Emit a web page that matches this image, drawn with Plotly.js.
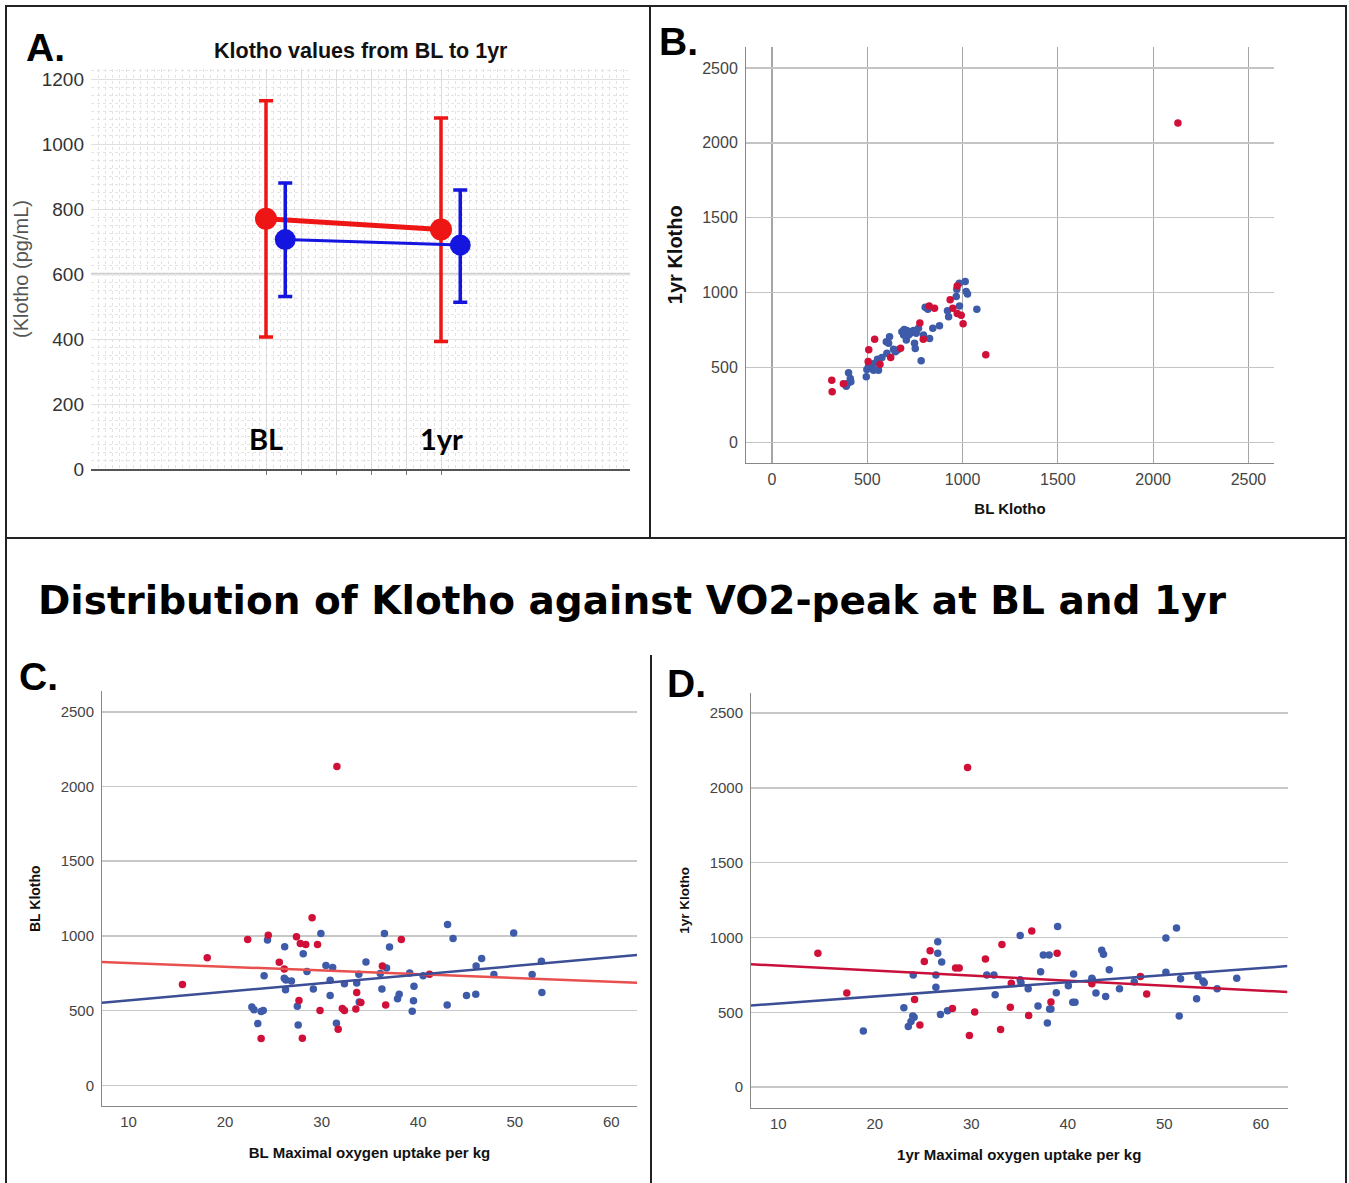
<!DOCTYPE html>
<html><head><meta charset="utf-8">
<script src="https://cdn.plot.ly/plotly-3.0.1.min.js"></script>
<style>html,body{margin:0;padding:0;background:#fff;} #chart{width:1349px;height:1183px;}</style>
</head><body><div id="chart"></div>
<script>
// ---------- Panel A: mean +/- SD ----------
const aCategories = ['BL', '1yr'];
const aRedMean  = [770, 737];
const aRedUpper = [1133, 1080];
const aRedLower = [406, 392];
const aBlueMean  = [706, 689];
const aBlueUpper = [880, 859];
const aBlueLower = [531, 513];
const aRefLine = 600;
const aTicks = [0, 200, 400, 600, 800, 1000, 1200];
const aXTicks = [1, 1.2, 1.4, 1.6, 1.8, 2];

// ---------- Panel B: BL Klotho vs 1yr Klotho ----------
const bRedX = [314, 316, 375, 505, 508, 539, 567, 623, 675, 776, 794, 825, 853, 935, 949, 972, 972, 993, 1003, 1122, 2130];
const bRedY = [414, 338, 391, 540, 619, 688, 522, 566, 628, 796, 688, 911, 895, 952, 895, 1044, 860, 849, 791, 584, 2132];
const bBlueX = [402, 411, 397, 390, 414, 495, 498, 507, 516, 524, 533, 537, 559, 554, 577, 603, 600, 617, 612, 638, 647, 659, 682, 691, 694, 708, 705, 717, 726, 734, 743, 748, 752, 757, 769, 783, 795, 804, 818, 827, 844, 879, 921, 927, 967, 970, 984, 983, 1014, 1019, 1026, 1075];
const bBlueY = [464, 426, 393, 375, 404, 438, 487, 509, 522, 504, 482, 527, 482, 554, 567, 594, 672, 705, 661, 621, 605, 616, 739, 717, 754, 746, 683, 717, 728, 739, 746, 661, 627, 728, 761, 545, 717, 902, 888, 694, 761, 779, 879, 839, 973, 1022, 911, 1063, 1074, 1007, 991, 888];

// ---------- Panel C: BL VO2 peak vs BL Klotho ----------
const cRedX = [31.58, 15.58, 18.15, 22.34, 24.47, 29.01, 27.39, 27.79, 28.35, 29.57, 38.25, 25.61, 26.13, 36.29, 33.63, 34.06, 36.63, 27.65, 29.83, 32.14, 32.36, 33.54, 31.71, 23.73, 28.0, 41.17];
const cRedY = [2134, 675, 853, 976, 1004, 1122, 995, 949, 942, 942, 976, 823, 779, 798, 622, 554, 538, 568, 501, 515, 501, 510, 376, 313, 315, 744];
const cBlueX = [24.39, 26.17, 29.92, 28.09, 24.04, 26.13, 26.87, 26.26, 28.48, 29.14, 30.44, 31.14, 30.88, 30.88, 32.36, 33.63, 33.85, 34.59, 33.89, 22.77, 22.99, 23.73, 23.95, 23.38, 27.48, 27.57, 31.53, 36.5, 37.03, 36.72, 36.07, 36.24, 39.12, 38.03, 37.86, 39.56, 39.51, 39.38, 40.51, 43.04, 43.61, 43.0, 45.0, 45.96, 46.0, 46.57, 47.84, 49.89, 51.8, 52.76, 52.81, 26.3];
const cBlueY = [972, 928, 1016, 881, 733, 717, 698, 640, 761, 645, 802, 788, 703, 601, 679, 684, 744, 826, 557, 524, 506, 494, 501, 413, 529, 404, 415, 1016, 925, 786, 749, 645, 751, 610, 580, 663, 566, 496, 733, 1076, 983, 538, 601, 610, 798, 849, 742, 1020, 742, 830, 622, 705];
const cFitRed  = [844.3, -2.527];   // [intercept, slope]
const cFitBlue = [510.1, 5.775];

// ---------- Panel D: 1yr VO2 peak vs 1yr Klotho ----------
const dRedX = [29.62, 14.11, 17.11, 25.74, 25.14, 24.13, 24.68, 28.38, 28.75, 28.05, 30.36, 29.81, 31.47, 33.18, 34.15, 34.05, 33.04, 36.27, 38.9, 35.95, 38.26, 42.5, 47.53, 48.18];
const dRedY = [2135, 895, 629, 911, 839, 585, 416, 796, 796, 525, 502, 345, 856, 953, 694, 534, 386, 1043, 895, 479, 569, 691, 740, 622];
const dBlueX = [18.82, 23.02, 23.99, 23.94, 24.08, 23.76, 23.48, 26.53, 26.53, 26.94, 26.34, 26.34, 26.81, 27.54, 31.61, 32.35, 32.48, 35.07, 35.07, 35.16, 35.9, 37.19, 37.47, 38.07, 36.92, 38.12, 38.26, 37.89, 38.81, 38.95, 40.06, 40.61, 40.52, 40.75, 42.5, 42.55, 42.92, 43.52, 43.7, 44.3, 43.93, 45.36, 46.89, 50.17, 51.27, 50.17, 51.69, 51.55, 53.35, 53.49, 54.0, 54.14, 55.48, 57.51];
const dBlueY = [375, 530, 749, 476, 467, 439, 405, 971, 895, 837, 749, 668, 486, 511, 749, 749, 617, 1013, 717, 698, 657, 772, 883, 883, 543, 523, 523, 428, 631, 1073, 678, 756, 567, 567, 728, 717, 629, 914, 888, 784, 606, 657, 703, 997, 1064, 768, 724, 476, 590, 740, 710, 698, 657, 728];
const dFitRed  = [844.9, -3.328];
const dFitBlue = [512.0, 4.731];

// ---------- layout helpers ----------
const W = 1349, H = 1183;
const fx = p => p / W;
const fy = p => 1 - p / H;
const RED = '#d01038', BLUE = '#3e5ba9';
const A_RED = '#ee1515', A_BLUE = '#1515e0';
const FONT = 'Liberation Sans, Arial, sans-serif';

const aXRange = [0, 3.08];
const aBlueOffset = 0.11;
const cXRange = [7.25, 62.66];
const dXRange = [7.18, 62.77];

const traces = [];

// Panel A
const aRedX = aCategories.map((c, i) => i + 1);
const aBlueX = aCategories.map((c, i) => i + 1 + aBlueOffset);
traces.push({
  x: aRedX, y: aRedMean, xaxis: 'x', yaxis: 'y', type: 'scatter', mode: 'lines+markers',
  line: {color: A_RED, width: 5}, marker: {color: A_RED, size: 22},
  error_y: {type: 'data', symmetric: false,
    array: aRedUpper.map((u, i) => u - aRedMean[i]),
    arrayminus: aRedMean.map((m, i) => m - aRedLower[i]),
    color: A_RED, thickness: 3.5, width: 7},
  showlegend: false, hoverinfo: 'skip'
});
traces.push({
  x: aBlueX, y: aBlueMean, xaxis: 'x', yaxis: 'y', type: 'scatter', mode: 'lines+markers',
  line: {color: A_BLUE, width: 3}, marker: {color: A_BLUE, size: 21},
  error_y: {type: 'data', symmetric: false,
    array: aBlueUpper.map((u, i) => u - aBlueMean[i]),
    arrayminus: aBlueMean.map((m, i) => m - aBlueLower[i]),
    color: A_BLUE, thickness: 3.5, width: 7},
  showlegend: false, hoverinfo: 'skip'
});

// Panel B
traces.push({x: bBlueX, y: bBlueY, xaxis: 'x2', yaxis: 'y2', type: 'scatter', mode: 'markers',
  marker: {color: BLUE, size: 7.5}, showlegend: false});
traces.push({x: bRedX, y: bRedY, xaxis: 'x2', yaxis: 'y2', type: 'scatter', mode: 'markers',
  marker: {color: RED, size: 7.5}, showlegend: false});

// Panel C
traces.push({x: cBlueX, y: cBlueY, xaxis: 'x3', yaxis: 'y3', type: 'scatter', mode: 'markers',
  marker: {color: BLUE, size: 7.5}, showlegend: false});
traces.push({x: cRedX, y: cRedY, xaxis: 'x3', yaxis: 'y3', type: 'scatter', mode: 'markers',
  marker: {color: RED, size: 7.5}, showlegend: false});
traces.push({x: cXRange, y: cXRange.map(x => cFitRed[0] + cFitRed[1] * x), xaxis: 'x3', yaxis: 'y3',
  type: 'scatter', mode: 'lines', line: {color: '#e8504e', width: 2.5}, showlegend: false});
traces.push({x: cXRange, y: cXRange.map(x => cFitBlue[0] + cFitBlue[1] * x), xaxis: 'x3', yaxis: 'y3',
  type: 'scatter', mode: 'lines', line: {color: '#3b4e96', width: 2.5}, showlegend: false});

// Panel D
traces.push({x: dBlueX, y: dBlueY, xaxis: 'x4', yaxis: 'y4', type: 'scatter', mode: 'markers',
  marker: {color: BLUE, size: 7.5}, showlegend: false});
traces.push({x: dRedX, y: dRedY, xaxis: 'x4', yaxis: 'y4', type: 'scatter', mode: 'markers',
  marker: {color: RED, size: 7.5}, showlegend: false});
traces.push({x: dXRange, y: dXRange.map(x => dFitRed[0] + dFitRed[1] * x), xaxis: 'x4', yaxis: 'y4',
  type: 'scatter', mode: 'lines', line: {color: '#c8103a', width: 2.5}, showlegend: false});
traces.push({x: dXRange, y: dXRange.map(x => dFitBlue[0] + dFitBlue[1] * x), xaxis: 'x4', yaxis: 'y4',
  type: 'scatter', mode: 'lines', line: {color: '#3b4e96', width: 2.5}, showlegend: false});

const tickF = (s) => ({family: FONT, size: s, color: '#444'});
const titleF = (s) => ({family: FONT, size: s, color: '#111', weight: 'bold'});

const layout = {
  width: W, height: H, margin: {l: 0, r: 0, t: 0, b: 0},
  paper_bgcolor: '#fff', plot_bgcolor: '#fff', showlegend: false,
  font: {family: FONT},
  // Panel A
  xaxis: {domain: [fx(91), fx(630)], anchor: 'y', range: aXRange,
    tickmode: 'array', tickvals: aXTicks, showticklabels: false,
    ticks: 'outside', ticklen: 4, tickcolor: '#777',
    showgrid: true, gridcolor: '#dcdcdc', zeroline: false,
    showline: true, linecolor: '#555', linewidth: 1.5,
    minor: {tickmode: 'linear', tick0: 0, dtick: 0.04, showgrid: true, gridcolor: '#e2e2e2', griddash: 'dot', ticks: ''}},
  yaxis: {domain: [fy(469), fy(69)], anchor: 'x', range: [0, 1231],
    tickvals: aTicks, tickfont: {family: FONT, size: 19, color: '#333'},
    showgrid: true, gridcolor: '#e0e0e0', zeroline: false, showline: false, ticks: '',
    ticklabelstandoff: 6,
    title: {text: '(Klotho (pg/mL)', font: {family: FONT, size: 20, color: '#555'}, standoff: 7},
    minor: {tickmode: 'linear', tick0: 0, dtick: 25, showgrid: true, gridcolor: '#e4e4e4', griddash: 'dot', ticks: ''}},
  // Panel B
  xaxis2: {domain: [fx(746), fx(1274)], anchor: 'y2', range: [-136, 2634],
    tickmode: 'linear', tick0: 0, dtick: 500, tickfont: tickF(16),
    showgrid: true, gridcolor: '#a6a6a6', gridwidth: 1.3, zeroline: false,
    showline: true, linecolor: '#888', ticks: '', ticklabelstandoff: 2,
    title: {text: 'BL Klotho', font: titleF(15), standoff: 16}},
  yaxis2: {domain: [fy(463), fy(46.5)], anchor: 'x2', range: [-138, 2643],
    tickmode: 'linear', tick0: 0, dtick: 500, tickfont: tickF(16),
    showgrid: true, gridcolor: '#c4c4c4', gridwidth: 1.5, zeroline: false,
    showline: true, linecolor: '#888', ticks: '', ticklabelstandoff: 4,
    title: {text: '1yr Klotho', font: titleF(20), standoff: 14}},
  // Panel C
  xaxis3: {domain: [fx(102), fx(637)], anchor: 'y3', range: cXRange,
    tickmode: 'linear', tick0: 0, dtick: 10, tickfont: tickF(15),
    showgrid: false, zeroline: false, showline: true, linecolor: '#888', ticks: '', ticklabelstandoff: 2,
    title: {text: 'BL Maximal oxygen uptake per kg', font: titleF(15), standoff: 18}},
  yaxis3: {domain: [fy(1106.4), fy(691)], anchor: 'x3', range: [-141, 2639],
    tickmode: 'linear', tick0: 0, dtick: 500, tickfont: tickF(15),
    showgrid: true, gridcolor: '#c8c8c8', gridwidth: 1.5, zeroline: false,
    showline: true, linecolor: '#888', ticks: '', ticklabelstandoff: 4,
    title: {text: 'BL Klotho', font: titleF(14), standoff: 16}},
  // Panel D
  xaxis4: {domain: [fx(751), fx(1287.5)], anchor: 'y4', range: dXRange,
    tickmode: 'linear', tick0: 0, dtick: 10, tickfont: tickF(15),
    showgrid: false, zeroline: false, showline: true, linecolor: '#888', ticks: '', ticklabelstandoff: 2,
    title: {text: '1yr Maximal oxygen uptake per kg', font: titleF(15), standoff: 18}},
  yaxis4: {domain: [fy(1108), fy(692.6)], anchor: 'x4', range: [-139, 2636],
    tickmode: 'linear', tick0: 0, dtick: 500, tickfont: tickF(15),
    showgrid: true, gridcolor: '#c8c8c8', gridwidth: 1.5, zeroline: false,
    showline: true, linecolor: '#888', ticks: '', ticklabelstandoff: 4,
    title: {text: '1yr Klotho', font: titleF(13.5), standoff: 16}},
  shapes: [
    {type: 'line', xref: 'x domain', yref: 'y', x0: 0, x1: 1, y0: aRefLine, y1: aRefLine,
     line: {color: '#cfcfcf', width: 2.5}, layer: 'below'},
    {type: 'rect', xref: 'paper', yref: 'paper', x0: fx(6), x1: fx(1346), y0: fy(1190), y1: fy(6),
     line: {color: '#222', width: 2}},
    {type: 'line', xref: 'paper', yref: 'paper', x0: fx(6), x1: fx(1346), y0: fy(538), y1: fy(538),
     line: {color: '#222', width: 2}},
    {type: 'line', xref: 'paper', yref: 'paper', x0: fx(650), x1: fx(650), y0: fy(538), y1: fy(6),
     line: {color: '#222', width: 2}},
    {type: 'line', xref: 'paper', yref: 'paper', x0: fx(651), x1: fx(651), y0: fy(1190), y1: fy(655),
     line: {color: '#222', width: 2}}
  ],
  annotations: [
    {xref: 'paper', yref: 'paper', x: fx(24), y: fy(47), xanchor: 'left', yanchor: 'middle', showarrow: false,
     text: '<b>A.</b>', font: {family: FONT, size: 39, color: '#000'}},
    {xref: 'paper', yref: 'paper', x: fx(657), y: fy(42), xanchor: 'left', yanchor: 'middle', showarrow: false,
     text: '<b>B.</b>', font: {family: FONT, size: 39, color: '#000'}},
    {xref: 'paper', yref: 'paper', x: fx(17), y: fy(676), xanchor: 'left', yanchor: 'middle', showarrow: false,
     text: '<b>C.</b>', font: {family: FONT, size: 39, color: '#000'}},
    {xref: 'paper', yref: 'paper', x: fx(665), y: fy(683), xanchor: 'left', yanchor: 'middle', showarrow: false,
     text: '<b>D.</b>', font: {family: FONT, size: 39, color: '#000'}},
    {xref: 'paper', yref: 'paper', x: fx(361), y: fy(51), xanchor: 'center', yanchor: 'middle', showarrow: false,
     text: '<b>Klotho values from BL to 1yr</b>', font: {family: FONT, size: 21.5, color: '#111'}},
    {xref: 'paper', yref: 'paper', x: fx(632), y: fy(601), xanchor: 'center', yanchor: 'middle', showarrow: false,
     text: '<b>Distribution of Klotho against VO2-peak at BL and 1yr</b>',
     font: {family: 'DejaVu Sans, Verdana, sans-serif', size: 39, color: '#000'}},
    {xref: 'x', yref: 'y', x: aRedX[0], y: 95, xanchor: 'center', yanchor: 'middle', showarrow: false,
     text: '<b>' + aCategories[0] + '</b>', font: {family: 'Lato, Liberation Sans, sans-serif', size: 29, color: '#000'}},
    {xref: 'x', yref: 'y', x: aRedX[1], y: 95, xanchor: 'center', yanchor: 'middle', showarrow: false,
     text: '<b>' + aCategories[1] + '</b>', font: {family: 'Lato, Liberation Sans, sans-serif', size: 29, color: '#000'}}
  ]
};

Plotly.newPlot('chart', traces, layout, {staticPlot: true, displayModeBar: false});
</script></body></html>
